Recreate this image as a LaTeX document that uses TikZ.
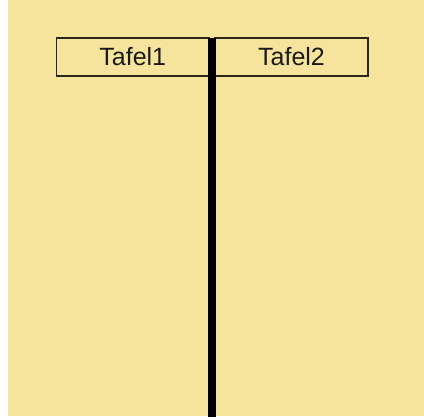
\documentclass[tikz,border=0pt]{standalone}
\usepackage{fontspec}
\setmainfont{Liberation Sans}
\usetikzlibrary{positioning}
\definecolor{tablebg}{HTML}{F6E49C}
\definecolor{boxline}{HTML}{2A2618}
\definecolor{tafeltext}{HTML}{1A1A12}

\begin{document}
\begin{tikzpicture}[x=1pt,y=1pt,
    tafel/.style={draw=boxline,line width=1.5pt,minimum height=38pt,
      inner sep=0pt,text=tafeltext,font=\fontsize{25}{28}\selectfont}]
    \useasboundingbox (0,0) rectangle (424,417);
    \fill[tablebg] (8,1) rectangle (424,417);
    \node[tafel,minimum width=152.5pt] (tafel1) at (132.75,360) {\raisebox{2pt}{Tafel1}};
    \node[tafel,minimum width=153pt] (tafel2) at (291.5,360) {\raisebox{2pt}{Tafel2}};
    % dividing bar
    \coordinate (bartop) at (212,379);
    \coordinate (barbot) at (212,0);
    \draw[line width=8pt] (bartop) -- (barbot);
  \end{tikzpicture}
\end{document}
